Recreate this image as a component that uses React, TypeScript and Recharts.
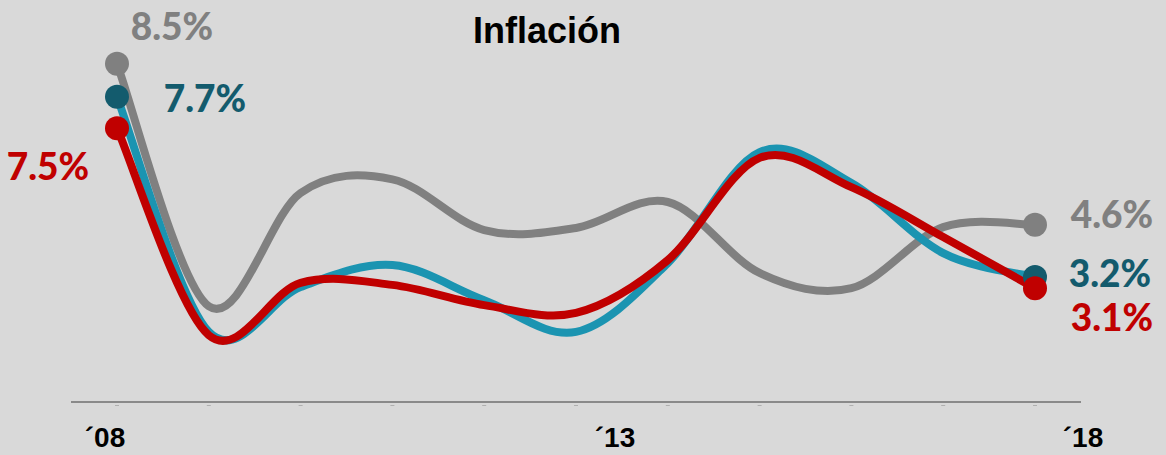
import { LineChart, Line, XAxis, YAxis, LabelList } from 'recharts';

const years = ['2008', '2009', '2010', '2011', '2012', '2013', '2014', '2015', '2016', '2017', '2018'];
const serieGris = [8.5, 2.62, 5.37, 5.7, 4.47, 4.52, 5.15, 3.43, 3.06, 4.54, 4.6];
const serieAzul = [7.7, 2.0, 3.09, 3.62, 2.77, 2.0, 3.67, 6.36, 5.61, 3.91, 3.33];
const serieRoja = [6.94, 1.92, 3.19, 3.14, 2.65, 2.46, 3.74, 6.22, 5.51, 4.3, 3.06];
const tickLabels = ['´08', '', '', '', '', '´13', '', '', '', '', '´18'];
const grisLabels = ['8.5%', '4.6%'];
const azulLabels = ['7.7%', '3.2%'];
const rojaLabels = ['7.5%', '3.1%'];

const data = years.map((year, i) => ({
  year,
  gris: serieGris[i],
  azul: serieAzul[i],
  roja: serieRoja[i],
}));

// smoothed line like the spreadsheet one (catmull-rom through the points)
const smoothCurve = (context: any) => {
  let pts: number[][] = [];
  return {
    areaStart() {},
    areaEnd() {},
    lineStart() { pts = []; },
    point(x: number, y: number) { pts.push([+x, +y]); },
    lineEnd() {
      if (!pts.length) return;
      context.moveTo(pts[0][0], pts[0][1]);
      for (let i = 0; i < pts.length - 1; i++) {
        const p0 = pts[Math.max(i - 1, 0)];
        const p1 = pts[i];
        const p2 = pts[i + 1];
        const p3 = pts[Math.min(i + 2, pts.length - 1)];
        context.bezierCurveTo(
          p1[0] + (p2[0] - p0[0]) / 6, p1[1] + (p2[1] - p0[1]) / 6,
          p2[0] - (p3[0] - p1[0]) / 6, p2[1] - (p3[1] - p1[1]) / 6,
          p2[0], p2[1]
        );
      }
    },
  };
};

const last = years.length - 1;
const labelFont = 'Lato, "Noto Sans", sans-serif';

const endDot = (color: string) => (props: any) => {
  const { cx, cy, index } = props;
  if (index !== 0 && index !== last) return <g key={`d${index}`} />;
  return <circle key={`d${index}`} cx={cx} cy={cy} r={12} fill={color} />;
};

const endLabel = (texts: string[], color: string, offsets: number[][]) => (props: any) => {
  const { x, y, index } = props;
  if (index !== 0 && index !== last) return null;
  const k = index === 0 ? 0 : 1;
  return (
    <text
      key={`l${index}`}
      x={x + offsets[k][0]}
      y={y + offsets[k][1]}
      fill={color}
      fontFamily={labelFont}
      fontWeight={900}
      fontSize={37}
      textAnchor="middle"
      dominantBaseline="central"
    >
      {texts[k]}
    </text>
  );
};

const tickShift = [-12, 0, 0, 0, 0, 39, 0, 0, 0, 0, 48];

const YearTick = (props: any) => {
  const { x, y, index } = props;
  return (
    <g>
      <rect x={x - 2} y={y - 5} width={4} height={1} fill="#b0b0b0" />
      {tickLabels[index] ? (
        <text
          x={x + tickShift[index]}
          y={y + 37}
          textAnchor="middle"
          fontFamily='"Liberation Sans", Arial, sans-serif'
          fontWeight={700}
          fontSize={28}
          fill="#000"
        >
          {tickLabels[index]}
        </text>
      ) : null}
    </g>
  );
};

export default function App() {
  return (
    <div style={{ position: 'absolute', left: 0, top: 0, width: 1166, height: 455, background: '#d9d9d9' }}>
      <LineChart width={1166} height={455} data={data} margin={{ top: 2, right: 85, bottom: 3, left: 71 }}>
        <text
          x={547}
          y={43}
          textAnchor="middle"
          fontFamily='"Liberation Sans", Arial, sans-serif'
          fontWeight={700}
          fontSize={36}
          fill="#000"
        >
          Inflación
        </text>
        <XAxis
          dataKey="year"
          padding={{ left: 46, right: 46 }}
          height={50}
          axisLine={{ stroke: '#8a8a8a', strokeWidth: 2 }}
          tickLine={false}
          interval={0}
          tick={<YearTick />}
        />
        <YAxis hide domain={[0.3, 10]} />
        <Line
          dataKey="gris"
          type={smoothCurve as any}
          stroke="#808080"
          strokeWidth={8}
          dot={endDot('#808080')}
          activeDot={false}
          isAnimationActive={false}
        >
          <LabelList dataKey="gris" content={endLabel(grisLabels, '#808080', [[55, -38], [77, -11]])} />
        </Line>
        <Line
          dataKey="azul"
          type={smoothCurve as any}
          stroke="#1b94b1"
          strokeWidth={8}
          dot={endDot('#135b6d')}
          activeDot={false}
          isAnimationActive={false}
        >
          <LabelList dataKey="azul" content={endLabel(azulLabels, '#135b6d', [[88, 1], [75, -5]])} />
        </Line>
        <Line
          dataKey="roja"
          type={smoothCurve as any}
          stroke="#c00000"
          strokeWidth={8}
          dot={endDot('#c00000')}
          activeDot={false}
          isAnimationActive={false}
        >
          <LabelList dataKey="roja" content={endLabel(rojaLabels, '#c00000', [[-69, 37], [77, 28]])} />
        </Line>
      </LineChart>
    </div>
  );
}
